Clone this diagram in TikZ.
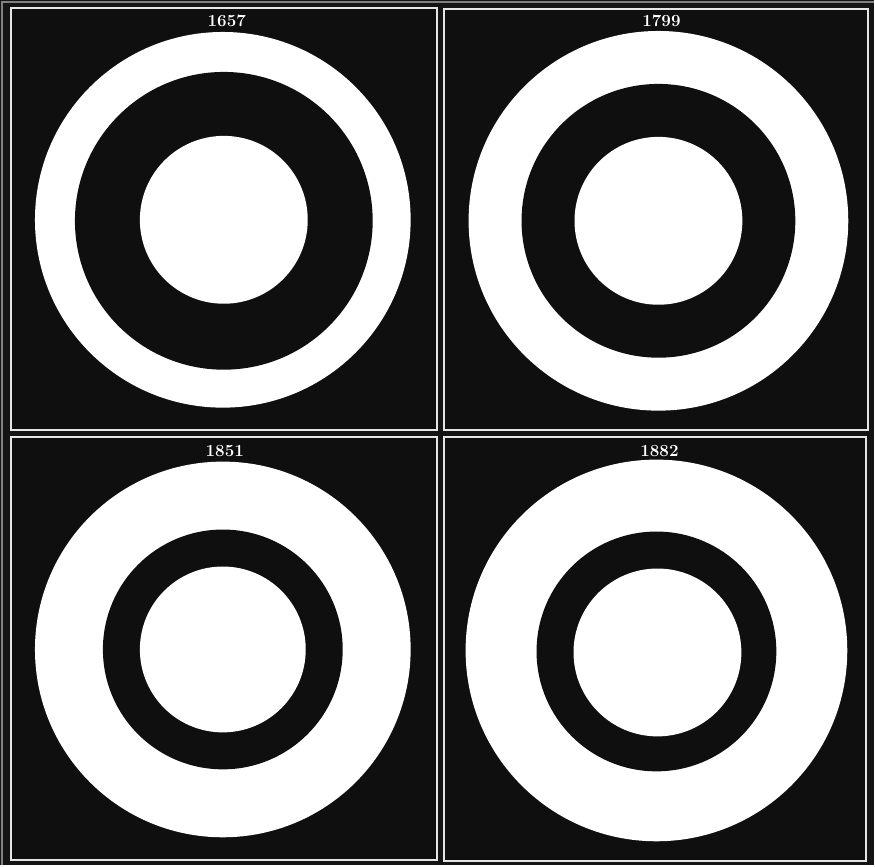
\documentclass[tikz,border=0pt]{standalone}
\usepackage{fontspec}
\begin{document}
\begin{tikzpicture}[x=1pt,y=-1pt,
        panel/.style={draw=white!90!black,line width=1.8pt,fill=black!94},
        ring/.style={fill=black!94},
        disc/.style={fill=white},
        year/.style={text=white,inner sep=0pt,
            font=\fontsize{17}{17}\selectfont\bfseries\addfontfeatures{LetterSpace=30}}]
    \fill[black!92] (0,0) rectangle (875,866);
    \draw[gray,line width=1.5pt] (2,866) -- (2,2) -- (875,2);
    \draw[panel] (11,8) rectangle (437,430);
    \draw[panel] (444,9) rectangle (869,430);
    \draw[panel] (11,437) rectangle (437,861);
    \draw[panel] (444,437) rectangle (867,862);
    \fill[disc] (223,220) circle (188pt);
    \fill[ring] (224,221) circle (149pt);
    \fill[disc] (224,220) circle (84pt);
    \fill[disc] (659,221) circle (190pt);
    \fill[ring] (659,221) circle (137pt);
    \fill[disc] (659,221) circle (84pt);
    \fill[disc] (223,650) circle (188pt);
    \fill[ring] (223,650) circle (120pt);
    \fill[disc] (223,650) circle (83pt);
    \fill[disc] (657,651) circle (191pt);
    \fill[ring] (657,652) circle (120pt);
    \fill[disc] (658,653) circle (84pt);
    \node[year] (y1657) at (227,21) {1657};
    \node[year] (y1799) at (662,21) {1799};
    \node[year] (y1851) at (225,451) {1851};
    \node[year] (y1882) at (660,451) {1882};
\end{tikzpicture}
\end{document}
